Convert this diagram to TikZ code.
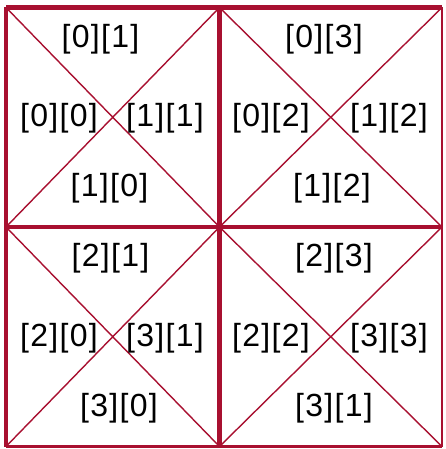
\documentclass[tikz,border=0pt]{standalone}
\usepackage{fontspec}
\setmainfont{Liberation Sans}[LetterSpace=4]
\definecolor{gridred}{RGB}{168,16,48}
\begin{document}
\begin{tikzpicture}[x=1pt,y=-1pt,
  thickline/.style={draw=gridred,line width=4.2pt},
  thinedge/.style={draw=gridred,line width=2.8pt},
  diag/.style={draw=gridred,line width=1.4pt},
  lbl/.style={font=\fontsize{32}{38}\selectfont,inner sep=0pt}]
\useasboundingbox (0,0) rectangle (445,449);
\fill[white] (0,0) rectangle (445,449);
% corner coordinates
\coordinate (a1) at (6,7.5);
\coordinate (a2) at (219.5,7.5);
\coordinate (a3) at (442,7.5);
\coordinate (b1) at (6,227);
\coordinate (b2) at (219.5,227);
\coordinate (b3) at (442,227);
\coordinate (c1) at (6,446.5);
\coordinate (c2) at (219.5,446.5);
\coordinate (c3) at (442,446.5);
% diagonals
\draw[diag] (a1) -- (b2) (a2) -- (b1);
\draw[diag] (a2) -- (b3) (a3) -- (b2);
\draw[diag] (b1) -- (c2) (b2) -- (c1);
\draw[diag] (b2) -- (c3) (b3) -- (c2);
% grid
\draw[thinedge] (a3) -- (c3);
\draw[thinedge] (c1) -- (c3);
\draw[thickline] (a1) -- (c1);
\draw[thickline] (a1) -- (a3);
\draw[thickline] (a2) -- (c2);
\draw[thickline] (b1) -- (b3);
% labels
\node[lbl] (n01) at (100.5,39) {[0][1]};
\node[lbl] (n00) at (59,118) {[0][0]};
\node[lbl] (n11) at (165,118) {[1][1]};
\node[lbl] (n10) at (109.5,188) {[1][0]};
\node[lbl] (n03) at (324,39) {[0][3]};
\node[lbl] (n02) at (271,118) {[0][2]};
\node[lbl] (n12a) at (389,118) {[1][2]};
\node[lbl] (n12b) at (332,188) {[1][2]};
\node[lbl] (n21) at (110.5,258.5) {[2][1]};
\node[lbl] (n20) at (59,338) {[2][0]};
\node[lbl] (n31a) at (165,338) {[3][1]};
\node[lbl] (n30) at (119,408) {[3][0]};
\node[lbl] (n23) at (334,258.5) {[2][3]};
\node[lbl] (n22) at (271,338) {[2][2]};
\node[lbl] (n33) at (389,338) {[3][3]};
\node[lbl] (n31b) at (334,408) {[3][1]};
\end{tikzpicture}
\end{document}
